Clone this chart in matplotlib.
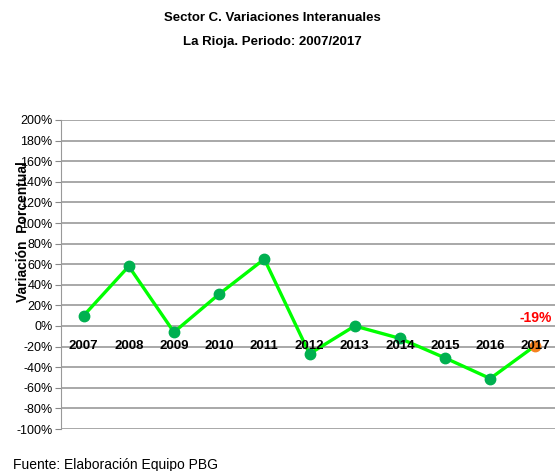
import matplotlib

matplotlib.use("Agg")
import matplotlib.pyplot as plt
from matplotlib.ticker import FuncFormatter

years = ["2007", "2008", "2009", "2010", "2011", "2012",
         "2013", "2014", "2015", "2016", "2017"]
variation = [0.10, 0.58, -0.06, 0.31, 0.65, -0.27,
             0.00, -0.12, -0.31, -0.51, -0.19]
last_label = "-19%"
y_ticks = [-1.0, -0.8, -0.6, -0.4, -0.2, 0.0, 0.2, 0.4,
           0.6, 0.8, 1.0, 1.2, 1.4, 1.6, 1.8, 2.0]

plt.rcParams["font.family"] = ["Liberation Sans", "DejaVu Sans"]

W, H = 555, 471
fig = plt.figure(figsize=(W / 100, H / 100), dpi=100)
# axes box in pixels: left 61, right 558, top 120, bottom 429
ax = fig.add_axes([61 / W, (H - 429) / H, (558 - 61) / W, (429 - 120) / H])

x = list(range(len(years)))
ax.plot(x, variation, color="#00FF00", linewidth=2.4, zorder=3)
ax.plot(x[:-1], variation[:-1], "o", color="#00B050", markersize=7.5, zorder=4)
ax.plot(x[-1], variation[-1], "o", color="#F5821F", markersize=7.5, zorder=4)

ax.set_xlim(-0.5, len(years) - 0.5)
ax.set_ylim(-1.0, 2.0)
ax.set_yticks(y_ticks)
ax.yaxis.set_major_formatter(FuncFormatter(lambda v, _: f"{v * 100:.0f}%"))
ax.tick_params(axis="y", labelsize=9, length=4, color="#888888", pad=2)
ax.set_xticks([])
ax.grid(axis="y", color="#999999", linewidth=1.2)
ax.set_axisbelow(True)
for side in ["top", "right", "bottom"]:
    ax.spines[side].set_visible(False)
ax.spines["left"].set_color("#999999")

# category labels sit just under the zero line
for xi, yr in zip(x, years):
    ax.text(xi, -0.19, yr, ha="center", va="center", fontsize=9.5,
            fontweight="bold", zorder=5)

ax.text(x[-1], variation[-1] + 0.27, last_label, ha="center", va="center",
        color="#FF0000", fontsize=10, fontweight="bold")

fig.text(23 / W, 1 - 232 / H, "Variación  Porcentual", rotation=90,
         ha="center", va="center", fontsize=10, fontweight="bold")

fig.text(272 / W, 1 - 18 / H, "Sector C. Variaciones Interanuales",
         ha="center", va="center", fontsize=9.5, fontweight="bold")
fig.text(272 / W, 1 - 42 / H, "La Rioja. Periodo: 2007/2017",
         ha="center", va="center", fontsize=9.5, fontweight="bold")

fig.text(13 / W, 1 - 465 / H, "Fuente: Elaboración Equipo PBG",
         ha="left", va="center", fontsize=10)

fig.savefig("out.png", dpi=100)
